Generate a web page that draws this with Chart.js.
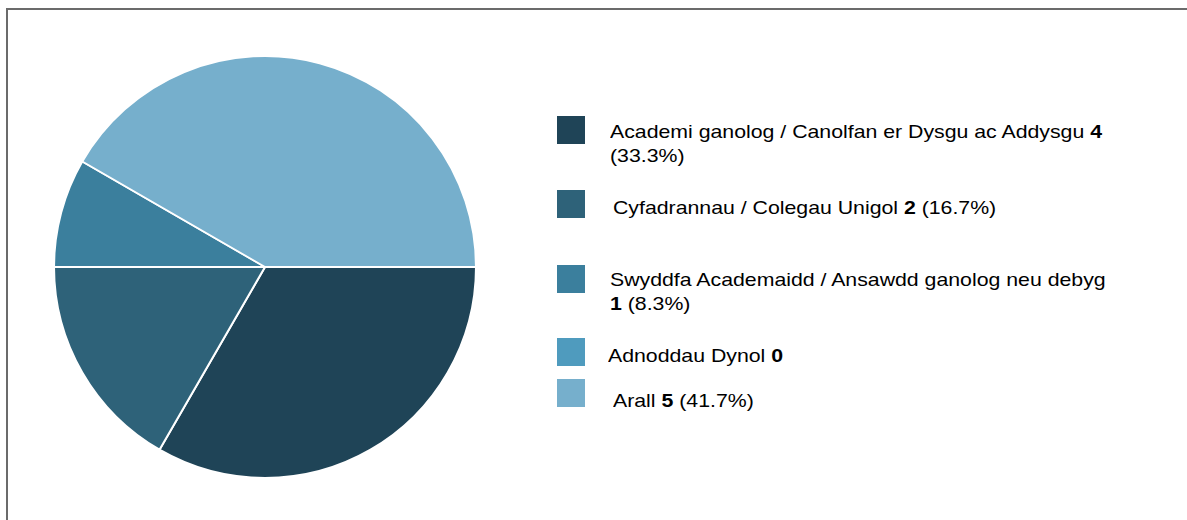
<!DOCTYPE html>
<html>
<head>
<meta charset="utf-8">
<script src="https://cdn.jsdelivr.net/npm/chart.js@4/dist/chart.umd.min.js"></script>
<style>
  html, body { margin: 0; padding: 0; background: #fff; }
  body { width: 1187px; height: 520px; position: relative; overflow: hidden; font-family: "Liberation Sans", Arial, sans-serif; }
  #frame { position: absolute; left: 6px; top: 8px; width: 1400px; height: 700px; border-left: 2px solid #6b6b6b; border-top: 2px solid #6b6b6b; }
  #pieWrap { position: absolute; left: 45px; top: 47px; width: 440px; height: 440px; }
  .item { position: absolute; left: 557px; }
  .box { position: absolute; left: 0; top: 0; width: 28px; height: 28px; }
  .txt { position: absolute; width: 439px; font-size: 18.5px; line-height: 24px; color: #000; transform: scaleX(1.15); transform-origin: 0 0; }
  .item:nth-child(1) { top: 116px; } .item:nth-child(1) .txt { left: 53px; top: 4px; }
  .item:nth-child(2) { top: 190px; } .item:nth-child(2) .txt { left: 56px; top: 6px; }
  .item:nth-child(3) { top: 265px; } .item:nth-child(3) .txt { left: 53px; top: 3px; }
  .item:nth-child(4) { top: 338px; } .item:nth-child(4) .txt { left: 51px; top: 6px; }
  .item:nth-child(5) { top: 379px; } .item:nth-child(5) .txt { left: 56px; top: 10px; }
</style>
</head>
<body>
<div id="frame"></div>
<div id="pieWrap"><canvas id="pie" width="440" height="440"></canvas></div>
<div id="legend"></div>
<script>
  // categories and counts
  const labels = [
    "Academi ganolog / Canolfan er Dysgu ac Addysgu",
    "Cyfadrannau / Colegau Unigol",
    "Swyddfa Academaidd / Ansawdd ganolog neu debyg",
    "Adnoddau Dynol",
    "Arall"
  ];
  const counts = [4, 2, 1, 0, 5];
  const colors = ["#1f4457", "#2e6279", "#3b7f9d", "#4f9bbe", "#76afcc"];

  const total = counts.reduce((a, b) => a + b, 0);

  // legend (html, so the numbers can be bold)
  const legend = document.getElementById("legend");
  labels.forEach((lab, i) => {
    const item = document.createElement("div");
    item.className = "item";
    const pct = counts[i] > 0 ? " (" + (counts[i] / total * 100).toFixed(1) + "%)" : "";
    item.innerHTML = '<span class="box" style="background:' + colors[i] + '"></span>' +
      '<span class="txt">' + lab + ' <b>' + counts[i] + '</b>' + pct + '</span>';
    legend.appendChild(item);
  });

  new Chart(document.getElementById("pie").getContext("2d"), {
    type: "pie",
    data: {
      labels: labels,
      datasets: [{
        data: counts,
        backgroundColor: colors,
        borderColor: "#ffffff",
        borderWidth: 2
      }]
    },
    options: {
      responsive: false,
      animation: false,
      rotation: 90,
      radius: 211,
      layout: { padding: 0 },
      plugins: {
        legend: { display: false },
        tooltip: { enabled: false }
      }
    }
  });
</script>
</body>
</html>
